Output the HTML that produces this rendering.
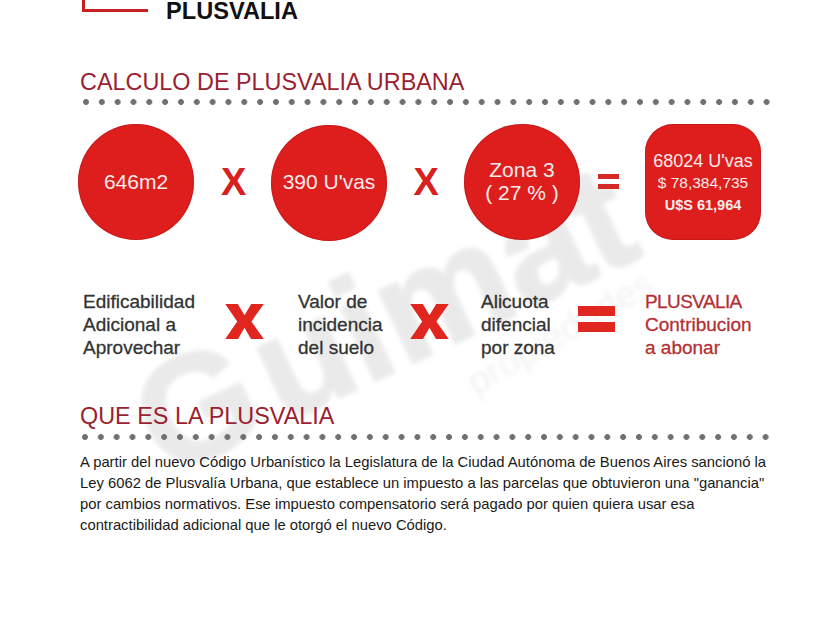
<!DOCTYPE html>
<html><head><meta charset="utf-8">
<style>
html,body{margin:0;padding:0;background:#fff;width:840px;height:630px;overflow:hidden;position:relative;font-family:"Liberation Sans",sans-serif}
.a{position:absolute;white-space:nowrap}
.circ{position:absolute;border-radius:50%;background:#de1e1c;box-shadow:inset 0 0 0 1px rgba(170,20,25,0.45)}
.dots{position:absolute;height:6px;background-image:radial-gradient(circle at 3px 3px,#707070 2.6px,rgba(112,112,112,0) 3.2px);background-size:15.84px 6px;background-repeat:repeat-x}
.ct{color:#f4ecec;font-size:21px;text-align:center;line-height:23px}
.r2{color:#333;font-size:19px;line-height:23.4px;-webkit-text-stroke:0.3px currentColor}
.bar{position:absolute;background:#d42a26}
</style></head><body>
<!-- watermark -->
<svg class="a" style="left:0;top:0;pointer-events:none" width="840" height="630">
<defs><filter id="bl" x="-10%" y="-10%" width="120%" height="120%"><feGaussianBlur stdDeviation="2"/></filter></defs>
<g opacity="0.08" filter="url(#bl)">
<g transform="translate(177,473) rotate(-25)" fill="#000" stroke="#000" stroke-width="3" stroke-linejoin="round" font-family="Liberation Sans" font-weight="bold" font-size="150">
<text y="0"><tspan x="-12">G</tspan><tspan x="116.7">uimat</tspan></text>
</g>
</g>
<g opacity="0.05" filter="url(#bl)">
<g transform="translate(476,396) rotate(-30)" fill="#000" font-family="Liberation Sans" font-size="38">
<text x="0" y="0">propiedades</text>
</g>
</g>
</svg>
<!-- header L -->
<div class="a" style="left:82px;top:0;width:3px;height:12px;background:#c8201f"></div>
<div class="a" style="left:82px;top:9px;width:66px;height:3px;background:#c8201f"></div>
<div class="a" style="left:166px;top:-2.5px;font-size:23.6px;font-weight:bold;color:#111;line-height:26px">PLUSVALIA</div>

<!-- heading 1 -->
<div class="a" style="left:80px;top:66.5px;font-size:23.4px;color:#9a1f30;line-height:30px">CALCULO DE PLUSVALIA URBANA</div>
<div class="dots" style="left:82.5px;top:98.75px;width:689px"></div>

<!-- circles -->
<div class="circ" style="left:78px;top:124px;width:116px;height:116px"></div>
<div class="a ct" style="left:78px;top:170px;width:116px">646m2</div>
<div class="a" style="left:221px;top:157px;font-size:38px;font-weight:bold;color:#d8201f;line-height:50px">X</div>

<div class="circ" style="left:271px;top:124.5px;width:116px;height:116px"></div>
<div class="a ct" style="left:271px;top:170px;width:116px">390 U'vas</div>
<div class="a" style="left:413.5px;top:157px;font-size:38px;font-weight:bold;color:#d8201f;line-height:50px">X</div>

<div class="circ" style="left:464px;top:124px;width:116px;height:116px"></div>
<div class="a ct" style="left:464px;top:158px;width:116px">Zona 3<br>( 27 % )</div>

<div class="bar" style="left:598px;top:174px;width:21px;height:5.4px"></div>
<div class="bar" style="left:598px;top:183.7px;width:21px;height:5.4px"></div>

<div class="a" style="left:645px;top:124px;width:116px;height:115.5px;border-radius:28px;background:#de1e1c;box-shadow:inset 0 0 0 1px rgba(170,20,25,0.45)"></div>
<div class="a" style="left:645px;top:150px;width:116px;text-align:center;color:#f4ecec;font-size:18px;line-height:22px">68024 U'vas</div>
<div class="a" style="left:645px;top:172.5px;width:116px;text-align:center;color:#f4ecec;font-size:15.5px;line-height:20px">$ 78,384,735</div>
<div class="a" style="left:645px;top:195px;width:116px;text-align:center;color:#f4ecec;font-size:14.5px;font-weight:bold;line-height:20px">U$S 61,964</div>

<!-- row 2 -->
<div class="a r2" style="left:83px;top:289.5px">Edificabilidad<br>Adicional a<br>Aprovechar</div>
<svg class="a" style="left:225px;top:304px" width="39" height="35" viewBox="0 0 38 34.5"><polygon fill="#e0261f" points="0,0 12.4,0 19,11 25.6,0 38,0 25.8,17.3 38,34.5 25.4,34.5 19,23.5 12.6,34.5 0,34.5 11.8,17.3"/></svg>
<div class="a r2" style="left:298px;top:289.5px">Valor de<br>incidencia<br>del suelo</div>
<svg class="a" style="left:410px;top:304px" width="39" height="35" viewBox="0 0 38 34.5"><polygon fill="#e0261f" points="0,0 12.4,0 19,11 25.6,0 38,0 25.8,17.3 38,34.5 25.4,34.5 19,23.5 12.6,34.5 0,34.5 11.8,17.3"/></svg>
<div class="a r2" style="left:481px;top:289.5px">Alicuota<br>difencial<br>por zona</div>
<div class="bar" style="left:578px;top:306px;width:37px;height:10px;background:#e0261f"></div>
<div class="bar" style="left:578px;top:322px;width:37px;height:10px;background:#e0261f"></div>
<div class="a r2" style="left:645px;top:289.5px;color:#b32f33"><span style="letter-spacing:-0.6px">PLUSVALIA</span><br>Contribucion<br>a abonar</div>

<!-- heading 2 -->
<div class="a" style="left:80px;top:401px;font-size:23.4px;color:#9a1f30;line-height:30px">QUE ES LA PLUSVALIA</div>
<div class="dots" style="left:82px;top:433.7px;width:689px"></div>

<div class="a" style="left:80px;top:452px;font-size:14.8px;line-height:21px;color:#1a1a1a">A partir del nuevo Código Urbanístico la Legislatura de la Ciudad Autónoma de Buenos Aires sancionó la<br>Ley 6062 de Plusvalía Urbana, que establece un impuesto a las parcelas que obtuvieron una "ganancia"<br>por cambios normativos. Ese impuesto compensatorio será pagado por quien quiera usar esa<br>contractibilidad adicional que le otorgó el nuevo Código.</div>
</body></html>
